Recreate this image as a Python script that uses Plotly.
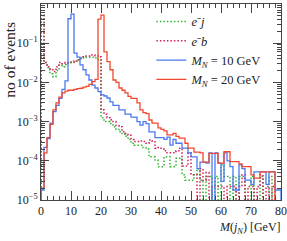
import plotly.graph_objects as go

# bin edges (1 GeV bins from 0 to 80)
bin_lo = list(range(0, 80))

# e^- j  (green dotted)
ej = [0.52, 3.2e-2, 2.4e-2, 1.66e-2, 1.4e-2, 2.0e-2, 2.75e-2, 2.5e-2, 2.8e-2, 3.2e-2,
      3.2e-2, 3.5e-2, 3.8e-2, 4.0e-2, 4.2e-2, 4.4e-2, 4.4e-2, 4.4e-2, 4.2e-2, 3.8e-2,
      1.26e-3, 1.0e-3, 1.0e-3, 8.9e-4, 7.4e-4, 6.3e-4, 5.5e-4, 5.0e-4, 4.2e-4, 3.5e-4,
      2.8e-4, 2.5e-4, 2.5e-4, 2.5e-4, 2.2e-4, 2.0e-4, 1.26e-4, 1.26e-4, 1.05e-4, 7.1e-5,
      7.1e-5, 1.26e-4, 1.26e-4, 7.1e-5, 7.1e-5, 1.17e-4, 1.17e-4, 4.4e-5, 3.2e-5, 3.2e-5,
      3.2e-5, 4.4e-5, 6.3e-5, 3.2e-5, 0, 4.0e-5, 4.0e-5, 0, 4.0e-5, 0,
      7.9e-5, 4.0e-5, 4.0e-5, 0, 4.0e-5, 0, 4.0e-5, 4.0e-5, 0, 0,
      4.0e-5, 0, 0, 4.0e-5, 0, 0, 4.0e-5, 0, 0, 0]

# e^- b  (crimson dotted)
eb = [0.52, 3.2e-2, 2.5e-2, 2.1e-2, 1.9e-2, 2.5e-2, 3.2e-2, 3.0e-2, 3.2e-2, 3.2e-2,
      3.3e-2, 3.5e-2, 3.8e-2, 4.2e-2, 4.5e-2, 4.7e-2, 4.7e-2, 5.0e-2, 4.8e-2, 4.5e-2,
      2.0e-3, 1.55e-3, 1.26e-3, 1.12e-3, 1.0e-3, 7.9e-4, 7.4e-4, 5.5e-4, 5.0e-4, 4.5e-4,
      3.5e-4, 3.1e-4, 3.1e-4, 3.2e-4, 3.1e-4, 2.8e-4, 3.4e-4, 3.2e-4, 2.1e-4, 2.2e-4,
      2.0e-4, 1.8e-4, 1.6e-4, 1.6e-4, 1.6e-4, 1.8e-4, 2.1e-4, 7.4e-5, 7.4e-5, 1.6e-4,
      4.4e-5, 4.4e-5, 0, 6.3e-5, 3.2e-5, 5.0e-5, 0, 2.2e-5, 2.2e-5, 2.2e-5,
      2.2e-5, 0, 2.2e-5, 2.2e-5, 2.2e-5, 0, 2.2e-5, 4.4e-5, 0, 2.2e-5,
      2.2e-5, 0, 2.2e-5, 4.4e-5, 0, 2.2e-5, 0, 2.2e-5, 0, 0]

# M_N = 10 GeV (blue)
mn10 = [1.8e-5, 2.2e-4, 3.7e-4, 9.1e-4, 1.8e-3, 2.6e-3, 3.9e-3, 6.6e-3, 1.1e-2, 0.42,
        0.55, 5.6e-2, 4.4e-2, 2.8e-2, 2.1e-2, 1.55e-2, 1.15e-2, 8.5e-3, 7.2e-3, 5.8e-3,
        4.8e-3, 4.5e-3, 4.0e-3, 3.2e-3, 2.6e-3, 2.6e-3, 2.0e-3, 2.0e-3, 1.55e-3, 1.55e-3,
        1.3e-3, 1.3e-3, 1.0e-3, 8.1e-4, 1.0e-3, 8.9e-4, 5.5e-4, 5.5e-4, 3.9e-4, 3.9e-4,
        3.9e-4, 3.5e-4, 4.0e-4, 2.5e-4, 3.5e-4, 2.8e-4, 2.8e-4, 2.1e-4, 2.1e-4, 1.6e-4,
        1.26e-4, 1.26e-4, 6.3e-5, 9.3e-5, 9.3e-5, 8.7e-5, 1.6e-4, 0, 1.6e-4, 8.7e-5,
        3.0e-5, 1.6e-4, 1.0e-4, 7.1e-5, 1.8e-5, 1.8e-5, 7.9e-5, 6.3e-5, 3.2e-5, 3.2e-5,
        2.5e-5, 5.2e-5, 5.2e-5, 5.2e-5, 5.2e-5, 2.5e-5, 5.2e-5, 5.2e-5, 1.8e-5, 1.8e-5]

# M_N = 20 GeV (red)
mn20 = [2.0e-5, 1.6e-4, 3.9e-4, 8.5e-4, 2.0e-3, 3.0e-3, 4.2e-3, 5.4e-3, 6.0e-3, 6.3e-3,
        6.3e-3, 6.6e-3, 6.9e-3, 7.1e-3, 7.6e-3, 7.9e-3, 8.9e-3, 1.05e-2, 1.2e-2, 0.41,
        0.52, 6.0e-2, 3.4e-2, 2.1e-2, 1.15e-2, 1.0e-2, 7.2e-3, 6.3e-3, 5.4e-3, 4.4e-3,
        3.9e-3, 3.9e-3, 3.0e-3, 2.0e-3, 1.7e-3, 1.6e-3, 1.1e-3, 9.1e-4, 9.1e-4, 6.9e-4,
        6.3e-4, 5.8e-4, 4.6e-4, 4.6e-4, 5.0e-4, 4.2e-4, 3.8e-4, 3.8e-4, 2.8e-4, 2.1e-4,
        2.1e-4, 1.66e-4, 1.66e-4, 1.6e-4, 9.3e-5, 9.3e-5, 1.55e-4, 1.55e-4, 1.55e-4, 8.7e-5,
        8.7e-5, 1.7e-4, 1.7e-4, 9.5e-5, 9.5e-5, 9.5e-5, 8.3e-5, 7.1e-5, 7.1e-5, 7.1e-5,
        4.4e-5, 3.6e-5, 3.6e-5, 5.2e-5, 5.2e-5, 5.2e-5, 5.2e-5, 5.2e-5, 0, 0]

y_ticks = [1e-5, 1e-4, 1e-3, 1e-2, 1e-1]
y_ticktext = ["10<sup>−5</sup>", "10<sup>−4</sup>", "10<sup>−3</sup>",
              "10<sup>−2</sup>", "10<sup>−1</sup>"]
x_ticks = [0, 10, 20, 30, 40, 50, 60, 70, 80]

FLOOR = 1e-7  # empty bins drop below the axis
SERIF = "Liberation Serif, Times New Roman, serif"


def step(vals):
    xs = [bin_lo[0]] + bin_lo + [bin_lo[-1] + 1, bin_lo[-1] + 1]
    v = [x if x > 0 else FLOOR for x in vals]
    ys = [FLOOR] + v + [v[-1], FLOOR]
    return xs, ys


series = [
    ("<i>e</i>⁻<i>j</i>", ej, "#2fb52f", "1.5px,2px", 1.5),
    ("<i>e</i>⁻<i>b</i>", eb, "#d0205a", "1.5px,2px", 1.5),
    ("<i>M<sub>N</sub></i> = 10 GeV", mn10, "#4a78f0", "solid", 1.3),
    ("<i>M<sub>N</sub></i> = 20 GeV", mn20, "#f2482f", "solid", 1.3),
]

fig = go.Figure()
for name, vals, col, dash, w in series:
    xs, ys = step(vals)
    fig.add_trace(go.Scatter(x=xs, y=ys, mode="lines", name=name,
                             line=dict(color=col, dash=dash, width=w, shape="hv")))

axcol = "#444444"
fig.update_layout(
    width=287, height=241,
    margin=dict(l=41, r=6, t=4, b=41),
    paper_bgcolor="white", plot_bgcolor="white",
    font=dict(family=SERIF, size=12, color="#222222"),
    showlegend=True,
    legend=dict(x=0.46, y=0.985, xanchor="left", yanchor="top",
                bgcolor="rgba(0,0,0,0)", font=dict(family=SERIF, size=12.5),
                itemwidth=30, tracegroupgap=0),
    xaxis=dict(range=[0, 80], tickvals=x_ticks, ticks="inside", ticklen=9,
               tickcolor=axcol, showline=True, linecolor=axcol, linewidth=1,
               mirror="ticks", showgrid=False, zeroline=False, automargin=False,
               tickfont=dict(family=SERIF, size=12),
               minor=dict(dtick=2, ticks="inside", ticklen=4, tickcolor=axcol, showgrid=False)),
    yaxis=dict(type="log", range=[-5, 0], tickvals=y_ticks, ticktext=y_ticktext,
               ticks="inside", ticklen=8, tickcolor=axcol, showline=True,
               linecolor=axcol, linewidth=1, mirror="ticks", showgrid=False,
               zeroline=False, automargin=False, tickfont=dict(family=SERIF, size=12),
               minor=dict(dtick="D1", ticks="inside", ticklen=4, tickcolor=axcol, showgrid=False)),
)

fig.add_annotation(text="no of events", xref="paper", yref="paper",
                   x=-0.13, y=0.715, textangle=-90, showarrow=False,
                   xanchor="center", yanchor="middle",
                   font=dict(family=SERIF, size=15.5, color="#222222"))
fig.add_annotation(text="<i>M</i>(<i>j<sub>N</sub></i>) [GeV]", xref="paper", yref="paper",
                   x=1.01, y=-0.145, showarrow=False, xanchor="right", yanchor="middle",
                   font=dict(family=SERIF, size=12, color="#222222"))

fig.write_html("out.html", config={"displayModeBar": False},
               post_script="document.body.style.margin='0';document.body.style.overflow='hidden';")
